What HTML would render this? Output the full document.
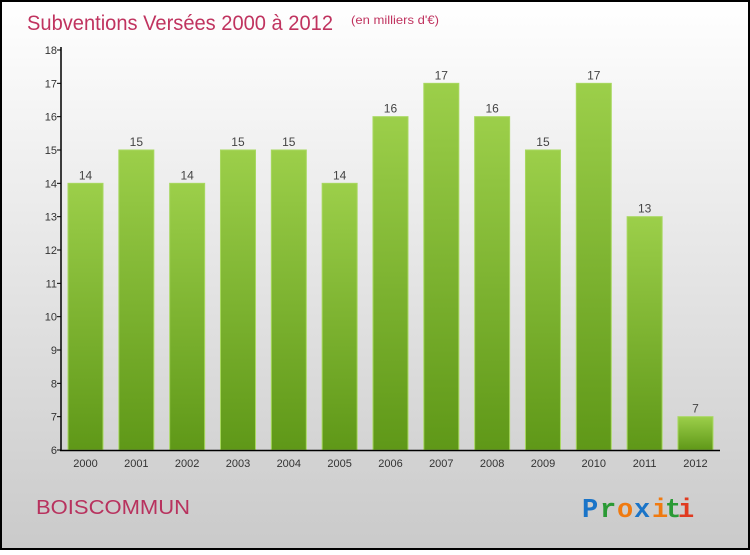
<!DOCTYPE html>
<html><head><meta charset="utf-8"><style>
body{margin:0;width:750px;height:550px;overflow:hidden;font-family:"Liberation Sans",sans-serif}
</style></head><body>
<svg width="750" height="550" xmlns="http://www.w3.org/2000/svg">
<defs>
<linearGradient id="bg" x1="0" y1="0" x2="0" y2="1"><stop offset="0" stop-color="#ffffff"/><stop offset="1" stop-color="#cacaca"/></linearGradient>
<linearGradient id="bar" x1="0" y1="0" x2="0" y2="1"><stop offset="0" stop-color="#9ccf4a"/><stop offset="1" stop-color="#5f9818"/></linearGradient>
</defs>
<rect x="1" y="1" width="748" height="548" fill="url(#bg)" stroke="#000" stroke-width="2"/>
<text x="27" y="30" font-size="21" fill="#c0335f" textLength="306" lengthAdjust="spacingAndGlyphs">Subventions Versées 2000 à 2012</text>
<text x="351" y="24" font-size="12" fill="#c0335f" textLength="88" lengthAdjust="spacingAndGlyphs">(en milliers d'€)</text>
<g id="plot"></g>
<text x="36" y="514" font-size="20" fill="#b8325e" textLength="154" lengthAdjust="spacingAndGlyphs">BOISCOMMUN</text>
<g font-family="Liberation Mono,monospace" font-size="27" font-weight="bold">
<text x="582" y="517" fill="#1a74c8">P</text><text x="600" y="517" fill="#2a9a35">r</text><text x="617" y="517" fill="#f07a10">o</text><text x="634" y="517" fill="#1a74c8">x</text><text x="652" y="517" fill="#f07a10">i</text><text x="665" y="517" fill="#2a9a35">t</text><text x="678" y="517" fill="#e03a20">i</text>
</g>
</svg>
<script>
const categories=["2000","2001","2002","2003","2004","2005","2006","2007","2008","2009","2010","2011","2012"];
const values=[14,15,14,15,15,14,16,17,16,15,17,13,7];
const yTicks=[6,7,8,9,10,11,12,13,14,15,16,17,18];
const NS="http://www.w3.org/2000/svg";
const g=document.getElementById('plot');
const y0=450,yMin=6,yMax=18,yTop=50;
const yS=v=>y0-(v-yMin)*(y0-yTop)/(yMax-yMin);
const xS=i=>68+i*50.83;
const bw=35;
function el(t,a){const e=document.createElementNS(NS,t);for(const k in a)e.setAttribute(k,a[k]);g.appendChild(e);return e;}
values.forEach((v,i)=>{
 const r=el('rect',{x:xS(i),y:yS(v),width:bw,height:y0-yS(v),fill:'url(#bar)',stroke:'#a8d860','stroke-width':1});
 
 
 const t=el('text',{x:xS(i)+bw/2,y:yS(v)-4,'text-anchor':'middle','font-size':12,fill:'#444'});
 t.textContent=v;
 
 
 const c=el('text',{x:xS(i)+bw/2,y:467,'text-anchor':'middle','font-size':11,fill:'#333'});
 c.textContent=categories[i];
 
 
});
yTicks.forEach(v=>{
 el('line',{x1:57,x2:61,y1:yS(v),y2:yS(v),stroke:'#000'});
 const t=el('text',{x:57,y:yS(v)+4,'text-anchor':'end','font-size':11,fill:'#333'});
 t.textContent=v;
 
 
});
const ya=el('line',{x1:61,x2:61,y1:47,y2:451,stroke:'#000','stroke-width':1.5});


const xa=el('line',{x1:60,x2:720,y1:450.5,y2:450.5,stroke:'#000','stroke-width':1.5});


</script>
</body></html>
